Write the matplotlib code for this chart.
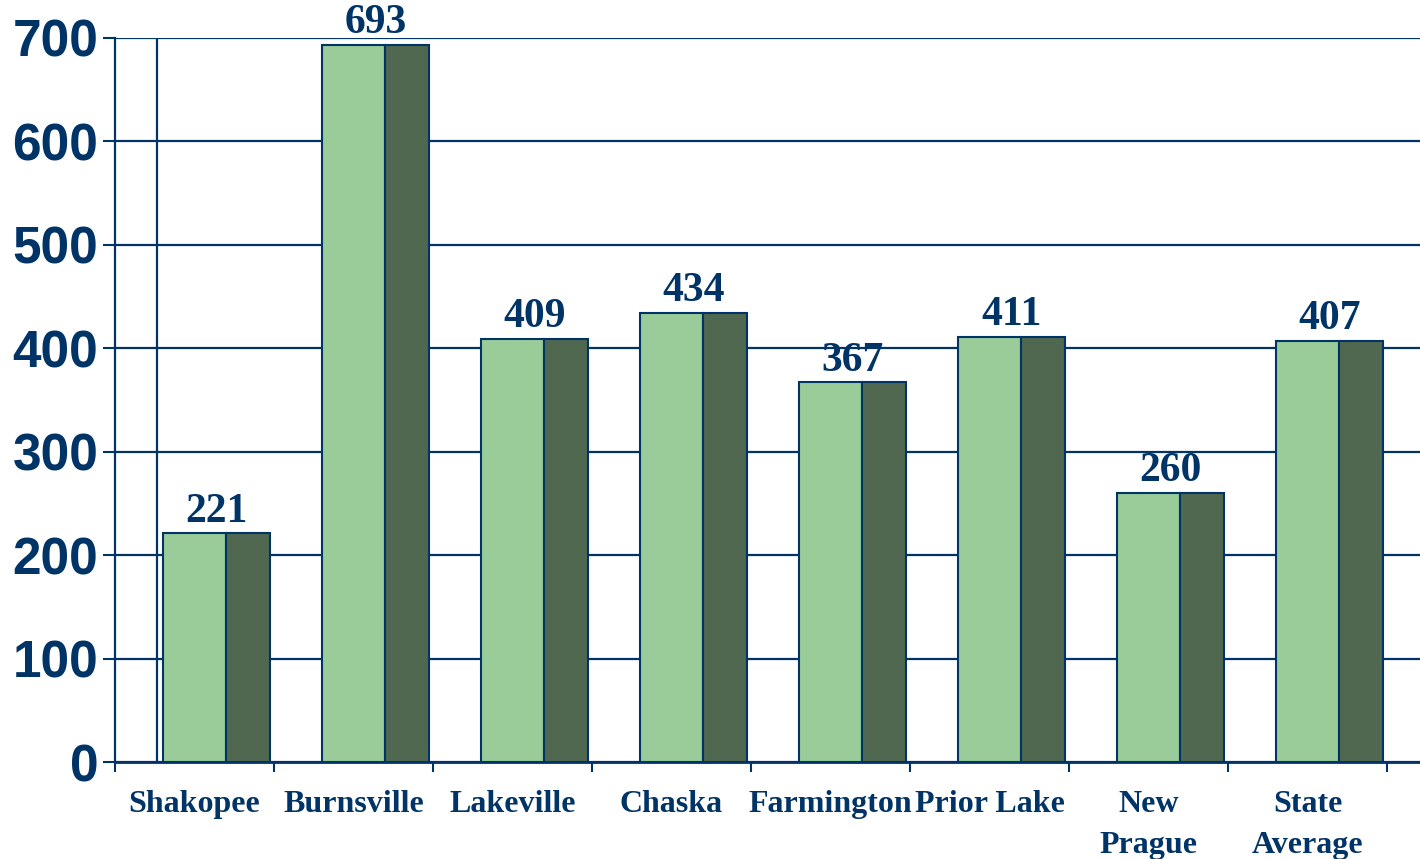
import numpy as np
import matplotlib
import matplotlib.pyplot as plt

matplotlib.use("Agg")

categories = ["Shakopee", "Burnsville", "Lakeville", "Chaska", "Farmington",
              "Prior Lake", "New\nPrague", "State\nAverage"]
values = [221, 693, 409, 434, 367, 411, 260, 407]
y_ticks = [0, 100, 200, 300, 400, 500, 600, 700]

navy = "#003366"
light_green = "#99CC99"
dark_green = "#4F684F"

fig = plt.figure(figsize=(14.2, 8.59), dpi=100)
ax = fig.add_axes([115 / 1420, 97 / 859, 1 - 115 / 1420, (762 - 38) / 859])

x = np.arange(len(categories))
ax.bar(x + 0.30, values, width=0.40, align="edge", color=light_green,
       edgecolor=navy, linewidth=1.5, zorder=3)
ax.bar(x + 0.70, values, width=0.275, align="edge", color=dark_green,
       edgecolor=navy, linewidth=1.5, zorder=3)

for xi, v in zip(x, values):
    ax.annotate(str(v), (xi + 0.6375, v), xytext=(0, 2), textcoords="offset points",
                ha="center", va="bottom", fontsize=30, fontweight="bold",
                family="Liberation Serif", color=navy, annotation_clip=False)

ax.set_xlim(0, 1305 / 159)
ax.set_ylim(0, 700)
ax.set_yticks(y_ticks)
ax.set_yticklabels([str(t) for t in y_ticks], fontsize=37, fontweight="bold",
                   family="Liberation Sans", color=navy)
ax.tick_params(axis="y", length=9, width=1.5, color=navy, pad=3)

ax.set_xticks(np.arange(len(categories) + 1))
ax.set_xticklabels([])
ax.tick_params(axis="x", length=7, width=1.5, color=navy)
ax.set_xticks(x + 0.5, minor=True)
ax.set_xticklabels(categories, minor=True, fontsize=23, fontweight="bold",
                   family="Liberation Serif", color=navy, linespacing=1.55)
ax.tick_params(axis="x", which="minor", length=0, pad=20)

ax.yaxis.grid(True, color=navy, linewidth=1.6, zorder=0)
ax.set_axisbelow(True)
ax.axvline(42 / 159, color=navy, linewidth=1.6, zorder=1)

for side in ["top", "right"]:
    ax.spines[side].set_visible(False)
ax.spines["left"].set_color(navy)
ax.spines["left"].set_linewidth(1.6)
ax.spines["bottom"].set_color(navy)
ax.spines["bottom"].set_linewidth(2)

fig.savefig("out.png")
